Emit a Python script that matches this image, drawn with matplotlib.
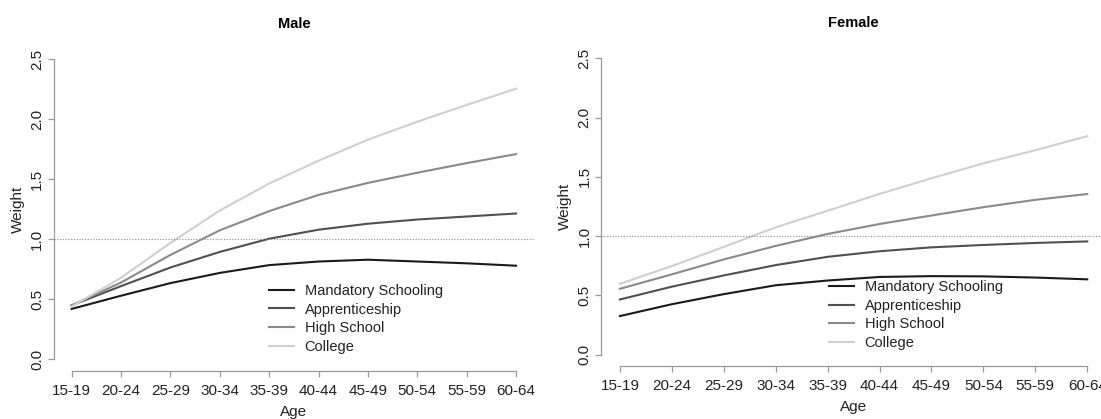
import matplotlib.pyplot as plt

plt.rcParams['font.family'] = ['Liberation Sans', 'DejaVu Sans']

age_groups = ['15-19', '20-24', '25-29', '30-34', '35-39',
              '40-44', '45-49', '50-54', '55-59', '60-64']
education = ['Mandatory Schooling', 'Apprenticeship', 'High School', 'College']
line_colors = ['#1a1a1a', '#505050', '#8a8a8a', '#cfcfcf']

male_weights = [
    [0.42, 0.53, 0.635, 0.72, 0.785, 0.815, 0.83, 0.815, 0.80, 0.78],
    [0.45, 0.61, 0.765, 0.895, 1.005, 1.08, 1.13, 1.165, 1.19, 1.215],
    [0.45, 0.64, 0.87, 1.075, 1.235, 1.37, 1.47, 1.555, 1.635, 1.71],
    [0.44, 0.68, 0.97, 1.24, 1.465, 1.655, 1.83, 1.98, 2.12, 2.255],
]
female_weights = [
    [0.325, 0.425, 0.51, 0.585, 0.625, 0.655, 0.662, 0.66, 0.65, 0.635],
    [0.465, 0.573, 0.668, 0.755, 0.825, 0.872, 0.905, 0.925, 0.942, 0.955],
    [0.555, 0.677, 0.803, 0.917, 1.018, 1.102, 1.174, 1.244, 1.306, 1.355],
    [0.598, 0.747, 0.909, 1.074, 1.214, 1.356, 1.488, 1.614, 1.725, 1.843],
]

axis_grey = '#9a9a9a'
text_col = '#222222'
x = list(range(1, len(age_groups) + 1))

fig = plt.figure(figsize=(11.01, 4.19), dpi=100)
ax_m = fig.add_axes([0.04896, 0.1138, 0.4359, 0.7733])
ax_f = fig.add_axes([0.5461, 0.1255, 0.4584, 0.7635])


def draw_panel(ax, title, weights, legend_anchor):
    for vals, name, col in zip(weights, education, line_colors):
        ax.plot(x, vals, color=col, lw=1.5, label=name)
    ax.axhline(1.0, color='#8a8a8a', lw=0.8, ls=(0, (1, 1.5)))

    ax.set_xlim(0.64, 10.36)
    ax.set_ylim(-0.1, 2.6)
    ax.set_xticks(x)
    ax.set_xticklabels(age_groups)
    ax.set_yticks([0.0, 0.5, 1.0, 1.5, 2.0, 2.5])
    ax.set_yticklabels(['0.0', '0.5', '1.0', '1.5', '2.0', '2.5'],
                       rotation=90, va='center')

    for side in ('top', 'right'):
        ax.spines[side].set_visible(False)
    ax.spines['left'].set_bounds(0, 2.5)
    ax.spines['bottom'].set_bounds(1, 10)
    for side in ('left', 'bottom'):
        ax.spines[side].set_color(axis_grey)
        ax.spines[side].set_linewidth(0.9)
    ax.tick_params(axis='both', direction='out', length=4, width=0.9,
                   color=axis_grey, labelsize=11, labelcolor=text_col)
    ax.tick_params(axis='x', pad=5)
    ax.tick_params(axis='y', pad=3)

    ax.set_title(title, fontsize=10.5, fontweight='bold', pad=14)
    ax.set_xlabel('Age', fontsize=11, labelpad=5, color=text_col)
    ax.set_ylabel('Weight', fontsize=11, labelpad=4, color=text_col)

    leg = ax.legend(loc='upper left', bbox_to_anchor=legend_anchor,
                    frameon=False, fontsize=10.5, handlelength=1.7,
                    handletextpad=0.75, labelspacing=0.32, borderpad=0,
                    borderaxespad=0)
    for t in leg.get_texts():
        t.set_color(text_col)


draw_panel(ax_m, 'Male', male_weights, (0.448, 0.27))
draw_panel(ax_f, 'Female', female_weights, (0.451, 0.27))

fig.savefig('out.png', dpi=100)
